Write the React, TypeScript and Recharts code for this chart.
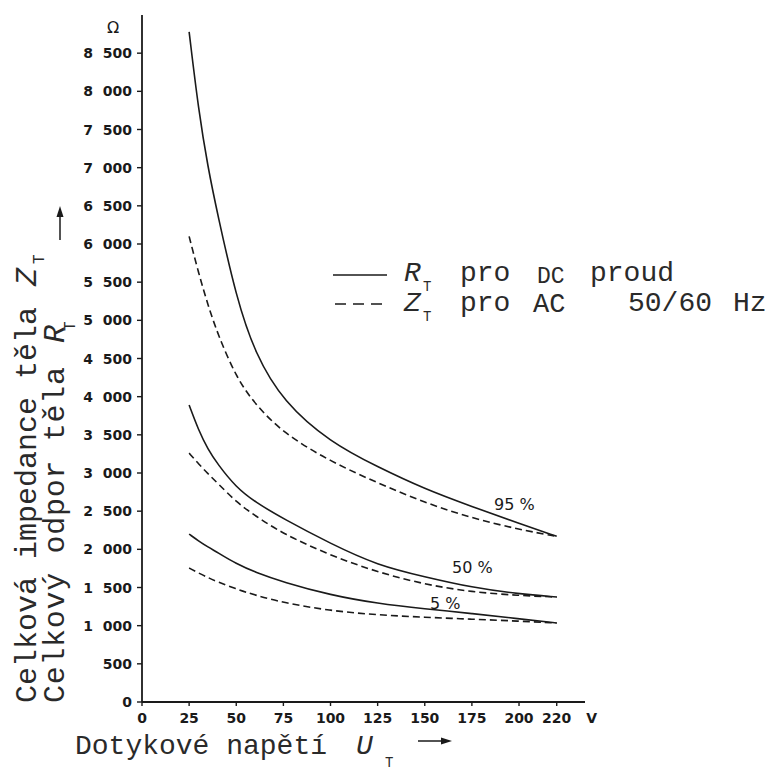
import { LineChart, Line, XAxis, YAxis } from "recharts"

// touch voltage U_T in V
const napeti = [25, 30, 35, 40, 50, 60, 75, 100, 125, 150, 175, 200, 220]

// body resistance / impedance in ohm
const dc95 = [8780, 7750, 7000, 6400, 5300, 4560, 3930, 3400, 3080, 2790, 2560, 2340, 2170]
const ac95 = [6100, 5620, 5200, 4830, 4250, 3900, 3520, 3150, 2870, 2610, 2410, 2260, 2170]
const dc50 = [3890, 3560, 3310, 3120, 2810, 2620, 2400, 2075, 1790, 1640, 1500, 1415, 1375]
const ac50 = [3260, 3120, 2990, 2870, 2620, 2440, 2200, 1920, 1700, 1540, 1440, 1395, 1375]
const dc5 = [2200, 2110, 2030, 1960, 1810, 1700, 1570, 1400, 1290, 1220, 1160, 1090, 1035]
const ac5 = [1755, 1690, 1630, 1575, 1480, 1400, 1300, 1195, 1140, 1110, 1085, 1060, 1035]

const xTicks = [0, 25, 50, 75, 100, 125, 150, 175, 200, 220]
const yTicks = [0, 500, 1000, 1500, 2000, 2500, 3000, 3500, 4000, 4500, 5000, 5500, 6000, 6500, 7000, 7500, 8000, 8500]

const data = napeti.map((u, i) => ({
  u,
  dc95: dc95[i],
  ac95: ac95[i],
  dc50: dc50[i],
  ac50: ac50[i],
  dc5: dc5[i],
  ac5: ac5[i],
}))

const INK = "#1a1a1a"
const SANS = "DejaVu Sans, sans-serif"
const MONO = "'Liberation Mono', monospace"

const fmtOhm = (v: number) =>
  v >= 1000 ? `${Math.floor(v / 1000)}\u2007${String(v % 1000).padStart(3, "0")}` : String(v)

const YTick = (props: any) => {
  const { x, y, payload } = props
  return (
    <text x={x} y={y} dy="0.36em" textAnchor="end" fontSize={14} fontWeight="bold" fontFamily={SANS} fill={INK}>
      {fmtOhm(payload.value)}
    </text>
  )
}

const XTick = (props: any) => {
  const { x, y, payload } = props
  return (
    <g>
      <text x={x} y={y} dy="0.71em" textAnchor="middle" fontSize={14} fontWeight="bold" fontFamily={SANS} fill={INK}>
        {payload.value}
      </text>
      {payload.value === 220 && (
        <text x={x + 35} y={y} dy="0.71em" textAnchor="middle" fontSize={14} fontWeight="bold" fontFamily={SANS} fill={INK}>
          V
        </text>
      )}
    </g>
  )
}

function Popisky() {
  return (
    <svg
      width={775}
      height={772}
      style={{ position: "absolute", left: 0, top: 0, pointerEvents: "none" }}
    >
      <text x={107} y={33} fontSize={16} fontFamily={SANS} fill={INK}>Ω</text>

      {/* y axis titles */}
      <g fontFamily={MONO} fill="#2a2a2a">
        <text transform="translate(36,703) rotate(-90)" fontSize={30} textLength={396} lengthAdjust="spacing">
          Celková impedance těla
        </text>
        <text transform="translate(36,286) rotate(-90)" fontSize={30} fontStyle="italic">Z</text>
        <text transform="translate(44,264) rotate(-90)" fontSize={16}>T</text>

        <text transform="translate(64,703) rotate(-90)" fontSize={30} textLength={336} lengthAdjust="spacing">
          Celkový odpor těla
        </text>
        <text transform="translate(64,343) rotate(-90)" fontSize={30} fontStyle="italic">R</text>
        <text transform="translate(75,331) rotate(-90)" fontSize={16}>T</text>
      </g>
      <line x1={60} y1={240} x2={60} y2={214} stroke={INK} strokeWidth={1.5} />
      <polygon points="60,206 56.5,217 63.5,217" fill={INK} />

      {/* x axis title */}
      <g fontFamily={MONO} fill="#2a2a2a">
        <text x={75} y={754} fontSize={28} textLength={252} lengthAdjust="spacing">Dotykové napětí</text>
        <text x={356} y={754} fontSize={28} fontStyle="italic">U</text>
        <text x={385} y={767} fontSize={14}>T</text>
      </g>
      <line x1={418} y1={741} x2={444} y2={741} stroke={INK} strokeWidth={1.5} />
      <polygon points="452,741 441,737.5 441,744.5" fill={INK} />

      {/* legend */}
      <line x1={333} y1={275} x2={387} y2={275} stroke={INK} strokeWidth={1.6} />
      <line x1={335} y1={304} x2={383} y2={304} stroke={INK} strokeWidth={1.6} strokeDasharray="11 7" />
      <g fontFamily={MONO} fill="#2a2a2a">
        <text x={404} y={281} fontSize={28} fontStyle="italic">R</text>
        <text x={423} y={291} fontSize={14}>T</text>
        <text x={460} y={281} fontSize={28}>pro</text>
        <text x={537} y={283} fontSize={23}>DC</text>
        <text x={590} y={281} fontSize={28}>proud</text>

        <text x={404} y={311} fontSize={28} fontStyle="italic">Z</text>
        <text x={423} y={321} fontSize={14}>T</text>
        <text x={460} y={311} fontSize={28}>pro</text>
        <text x={533} y={312} fontSize={27}>AC</text>
        <text x={628} y={311} fontSize={28}>50/60</text>
        <text x={733} y={311} fontSize={28}>Hz</text>
      </g>

      {/* percentile labels */}
      <g fontFamily={SANS} fontSize={16} fill={INK}>
        <text x={494} y={510}>95 %</text>
        <text x={452} y={573}>50 %</text>
        <text x={430} y={609}>5 %</text>
      </g>
    </svg>
  )
}

export default function App() {
  const dash = "7 4"
  return (
    <div style={{ position: "absolute", left: 0, top: 0, width: 775, height: 772, background: "#fff" }}>
      <LineChart
        width={775}
        height={772}
        data={data}
        margin={{ top: 15, right: 190, bottom: 30, left: 42 }}
      >
        <XAxis
          dataKey="u"
          type="number"
          domain={[0, 235]}
          allowDataOverflow
          ticks={xTicks}
          height={40}
          tick={<XTick />}
          tickSize={4}
          tickMargin={7}
          axisLine={{ stroke: INK, strokeWidth: 1.8 }}
          tickLine={{ stroke: INK, strokeWidth: 1.4 }}
        />
        <YAxis
          type="number"
          domain={[0, 9000]}
          allowDataOverflow
          ticks={yTicks}
          width={100}
          tick={<YTick />}
          tickSize={5}
          tickMargin={5}
          axisLine={{ stroke: INK, strokeWidth: 1.8 }}
          tickLine={{ stroke: INK, strokeWidth: 1.4 }}
        />
        <Line type="basis" dataKey="dc95" stroke={INK} strokeWidth={1.6} dot={false} isAnimationActive={false} />
        <Line type="basis" dataKey="ac95" stroke={INK} strokeWidth={1.6} strokeDasharray={dash} dot={false} isAnimationActive={false} />
        <Line type="basis" dataKey="dc50" stroke={INK} strokeWidth={1.6} dot={false} isAnimationActive={false} />
        <Line type="basis" dataKey="ac50" stroke={INK} strokeWidth={1.6} strokeDasharray={dash} dot={false} isAnimationActive={false} />
        <Line type="basis" dataKey="dc5" stroke={INK} strokeWidth={1.6} dot={false} isAnimationActive={false} />
        <Line type="basis" dataKey="ac5" stroke={INK} strokeWidth={1.6} strokeDasharray={dash} dot={false} isAnimationActive={false} />
      </LineChart>
      <Popisky />
    </div>
  )
}
